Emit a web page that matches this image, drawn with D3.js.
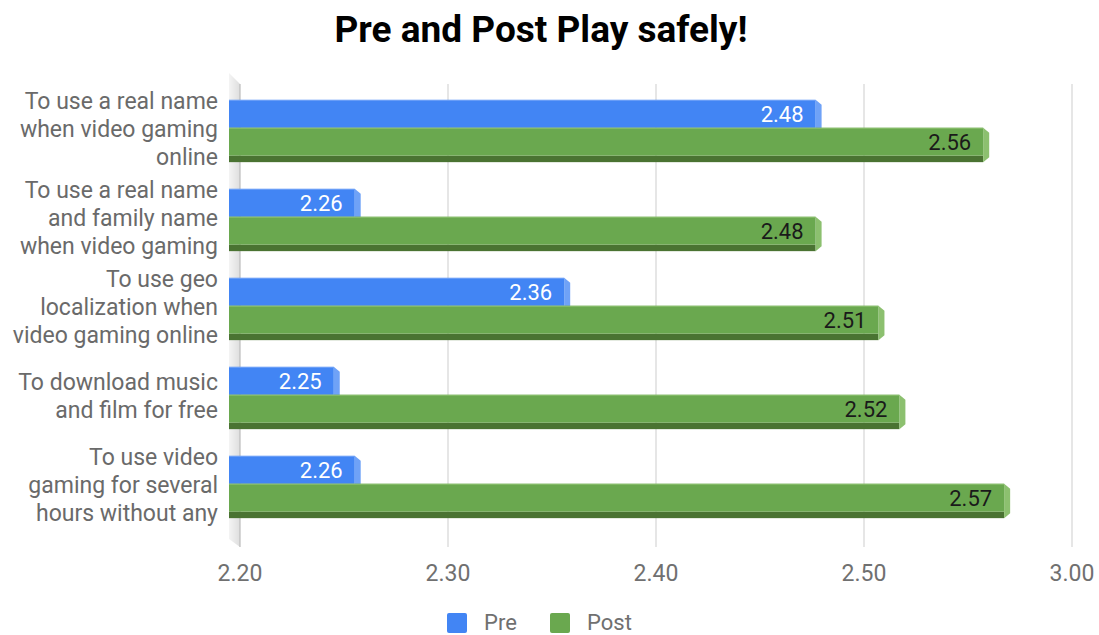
<!DOCTYPE html>
<html lang="en">
<head>
  <meta charset="UTF-8">
  <title>Pre and Post Play safely!</title>
  <script src="https://d3js.org/d3.v7.min.js"></script>
  <style>
    body { margin: 0; padding: 0; background: #fff; font-family: Roboto, Arial, sans-serif; }
  </style>
</head>
<body>
  <div id="chart"></div>
  <script>
    // data
    const categories = [
      ["To use a real name", "when video gaming", "online"],
      ["To use a real name", "and family name", "when video gaming"],
      ["To use geo", "localization when", "video gaming online"],
      ["To download music", "and film for free"],
      ["To use video", "gaming for several", "hours without any"]
    ];
    const preValues = [2.48, 2.26, 2.36, 2.25, 2.26];
    const postValues = [2.56, 2.48, 2.51, 2.52, 2.57];
    const tickValues = [2.2, 2.3, 2.4, 2.5, 2.6];
    const tickLabels = ["2.20", "2.30", "2.40", "2.50", "3.00"];
    const seriesNames = ["Pre", "Post"];

    const width = 1099, height = 635;
    const colors = {
      Pre:  { face: "#4285f4", side: "#6fa2f7", bottom: "#2f5fc0", label: "#ffffff" },
      Post: { face: "#6aa84f", side: "#8cc06f", bottom: "#4a7332", label: "#1a1a1a" }
    };

    const svg = d3.select("#chart").append("svg")
      .attr("width", width)
      .attr("height", height);

    // back plane (gridlines) and front plane (bar faces)
    const xBack = d3.scaleLinear().domain([2.2, 2.6]).range([240, 1072]);
    const xFront = d3.scaleLinear().domain([2.2, 2.6]).range([229, 1067]);

    const y = d3.scaleBand()
      .domain(d3.range(categories.length))
      .range([86.5, 531.5])
      .paddingInner(0.3)
      .paddingOuter(0.15);

    const bottomH = 6.5;
    const ySub = d3.scaleBand()
      .domain(seriesNames)
      .range([0, y.bandwidth() - bottomH]);

    // title
    svg.append("text")
      .attr("x", 541)
      .attr("y", 42)
      .attr("text-anchor", "middle")
      .style("font-family", "Roboto, Arial, sans-serif")
      .style("font-weight", "bold")
      .style("font-size", "37px")
      .attr("fill", "#000")
      .text("Pre and Post Play safely!");

    // left wall
    const defs = svg.append("defs");
    const grad = defs.append("linearGradient").attr("id", "wall")
      .attr("x1", "0").attr("x2", "1").attr("y1", "0").attr("y2", "0");
    grad.append("stop").attr("offset", "0").attr("stop-color", "#f4f4f4");
    grad.append("stop").attr("offset", "1").attr("stop-color", "#dedede");

    const gridTop = 84, gridBottom = 547;
    svg.append("path")
      .attr("d", `M${xFront(2.2)},${gridTop - 11}L${xBack(2.2)},${gridTop}L${xBack(2.2)},${gridBottom}L${xFront(2.2)},${gridBottom - 8}Z`)
      .attr("fill", "url(#wall)");

    // gridlines
    svg.append("g")
      .selectAll("line")
      .data(tickValues)
      .join("line")
      .attr("x1", d => xBack(d)).attr("x2", d => xBack(d))
      .attr("y1", gridTop).attr("y2", gridBottom)
      .attr("stroke", d => d === 2.2 ? "#bdbdbd" : "#d6d6d6")
      .attr("stroke-width", 1.2);

    // x tick labels
    svg.append("g")
      .selectAll("text")
      .data(tickValues)
      .join("text")
      .attr("x", d => xBack(d))
      .attr("y", 581)
      .attr("text-anchor", "middle")
      .style("font-size", "23px")
      .attr("fill", "#707070")
      .text((d, i) => tickLabels[i]);

    // category labels
    const catG = svg.append("g");
    categories.forEach((lines, i) => {
      const cy = y(i) + y.bandwidth() / 2;
      const lh = 28;
      const t = catG.append("text")
        .attr("text-anchor", "end")
        .style("font-size", "23px")
        .attr("fill", "#6a6a6a");
      lines.forEach((ln, j) => {
        t.append("tspan")
          .attr("x", 218)
          .attr("y", cy + (j - (lines.length - 1) / 2) * lh + 6)
          .text(ln);
      });
    });

    // bars
    const rows = [];
    categories.forEach((c, i) => {
      rows.push({ cat: i, series: "Pre", value: preValues[i] });
      rows.push({ cat: i, series: "Post", value: postValues[i] });
    });

    const depth = 6;
    const barG = svg.append("g");
    rows.forEach(r => {
      const c = colors[r.series];
      const x0 = xFront(2.2), x1 = xFront(r.value);
      const y0 = y(r.cat) + ySub(r.series);
      const h = ySub.bandwidth();
      const g = barG.append("g");
      // bottom face
      g.append("rect")
        .attr("x", x0).attr("y", y0 + h)
        .attr("width", x1 - x0).attr("height", bottomH)
        .attr("fill", c.bottom);
      // right side face
      g.append("path")
        .attr("d", `M${x1},${y0}L${x1 + depth},${y0 + 5}L${x1 + depth},${y0 + h + bottomH - 5}L${x1},${y0 + h + bottomH}Z`)
        .attr("fill", c.side);
      // front face
      g.append("rect")
        .attr("x", x0).attr("y", y0)
        .attr("width", x1 - x0).attr("height", h)
        .attr("fill", c.face);
      g.append("line")
        .attr("x1", x0).attr("x2", x1)
        .attr("y1", y0 + 0.5).attr("y2", y0 + 0.5)
        .attr("stroke", c.side).attr("stroke-width", 1);
      // value label
      g.append("text")
        .attr("x", x1 - 12)
        .attr("y", y0 + h / 2 + 8)
        .attr("text-anchor", "end")
        .style("font-size", "22px")
        .attr("fill", c.label)
        .text(r.value.toFixed(2));
    });

    // legend
    const legend = svg.append("g");
    const legendItems = [
      { name: "Pre", x: 447 },
      { name: "Post", x: 550 }
    ];
    legendItems.forEach(d => {
      legend.append("rect")
        .attr("x", d.x).attr("y", 613)
        .attr("width", 20).attr("height", 20)
        .attr("rx", 2)
        .attr("fill", colors[d.name].face);
      legend.append("text")
        .attr("x", d.x + 37)
        .attr("y", 630)
        .style("font-size", "22px")
        .attr("fill", "#707070")
        .text(d.name);
    });
  </script>
</body>
</html>
